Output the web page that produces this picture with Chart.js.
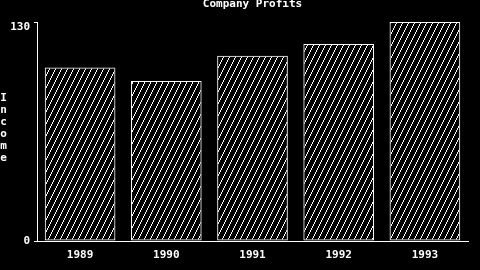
<!DOCTYPE html>
<html>
<head>
<meta charset="utf-8">
<script src="https://cdn.jsdelivr.net/npm/chart.js@4/dist/chart.umd.min.js"></script>
<style>
  html, body { margin: 0; padding: 0; background: #000; }
  #wrap { width: 480px; height: 270px; position: relative; }
</style>
</head>
<body>
<div id="wrap"><canvas id="chart"></canvas></div>
<script>
// Company Profits, 1989–1993
const years = ["1989", "1990", "1991", "1992", "1993"];
const income = [103, 95, 110, 117, 130];
const yTicks = [0, 130];
const chartTitle = "Company Profits";
const yTitle = "Income";

const FONT = "bold 11px 'DejaVu Sans Mono', monospace";

// diagonal "/" hatch like the old DOS plotter fill, drawn pixel by pixel
function hatch() {
  const c = document.createElement("canvas");
  c.width = 6;
  c.height = 12;
  const g = c.getContext("2d");
  g.fillStyle = "#fff";
  for (let y = 0; y < 12; y++) {
    g.fillRect(Math.floor((11 - y) / 2), y, 1, 1);
  }
  return g.createPattern(c, "repeat");
}

// title cut by the top edge + stacked y label
const textPlugin = {
  id: "dosText",
  afterDraw(chart) {
    const ctx = chart.ctx;
    const a = chart.chartArea;
    ctx.save();
    ctx.fillStyle = "#fff";
    ctx.font = FONT;
    ctx.textAlign = "center";
    ctx.textBaseline = "alphabetic";
    ctx.fillText(chartTitle, (a.left + a.right) / 2, 7);
    ctx.textBaseline = "bottom";
    [...yTitle].forEach((ch, i) => ctx.fillText(ch, 3.5, 104 + i * 12));
    ctx.restore();
  },
};

Chart.defaults.font.family = "'DejaVu Sans Mono', monospace";
Chart.defaults.color = "#fff";

new Chart(document.getElementById("chart"), {
  type: "bar",
  data: {
    labels: years,
    datasets: [{
      data: income,
      backgroundColor: hatch(),
      borderColor: "#fff",
      borderWidth: 1,
      borderSkipped: false,
      barPercentage: 0.82,
      categoryPercentage: 1,
    }],
  },
  options: {
    responsive: true,
    maintainAspectRatio: false,
    animation: false,
    layout: { padding: { left: 0, right: 12, top: 22, bottom: 0 } },
    plugins: {
      legend: { display: false },
      title: { display: false },
      tooltip: { enabled: false },
    },
    scales: {
      x: {
        grid: { display: false, drawTicks: false },
        border: { display: true, color: "#fff", width: 1 },
        ticks: { padding: 8, font: { size: 11, weight: "bold" }, color: "#fff" },
        afterFit: (s) => { s.height = 29; },
      },
      y: {
        min: 0,
        max: 130,
        afterBuildTicks: (s) => { s.ticks = yTicks.map((v) => ({ value: v })); },
        grid: { display: true, drawOnChartArea: false, drawTicks: true, tickLength: 3, color: "#fff" },
        border: { display: true, color: "#fff", width: 1 },
        ticks: {
          padding: 4,
          font: { size: 11, weight: "bold", lineHeight: 0.9 },
          color: "#fff",
          // top label sits just below the axis end, as in the original
          callback: (v) => (v === 130 ? ["", "130"] : String(v)),
        },
        afterFit: (s) => { s.width = 37; },
      },
    },
  },
  plugins: [textPlugin],
});
</script>
</body>
</html>
